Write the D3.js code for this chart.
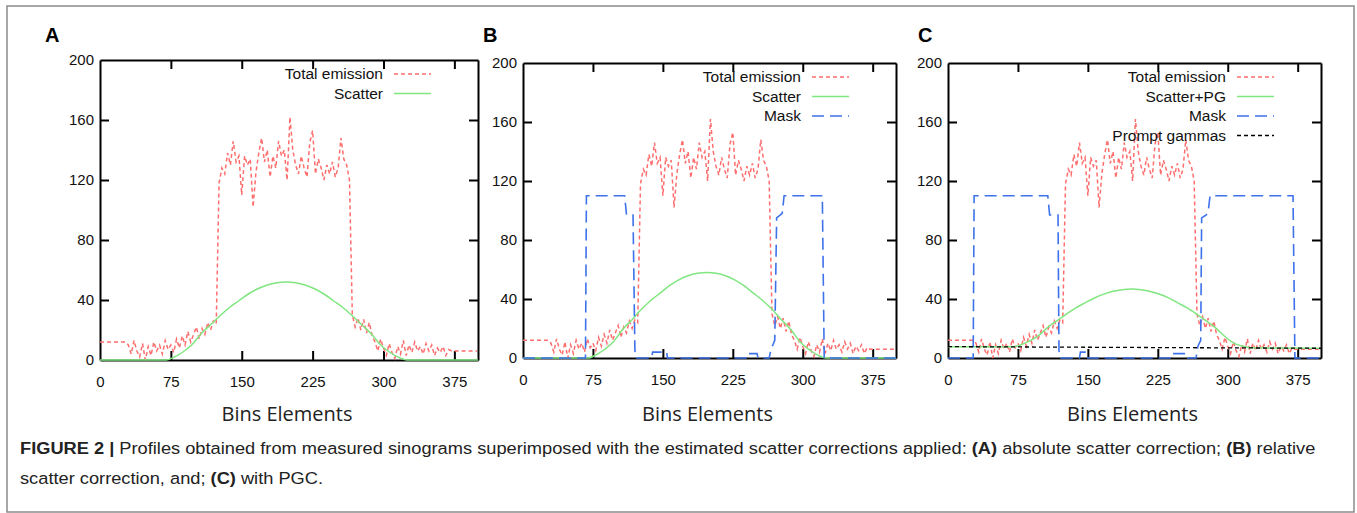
<!DOCTYPE html>
<html>
<head>
  <meta charset="utf-8">
  <title>Figure 2 - scatter profiles</title>
  <script src="https://d3js.org/d3.v7.min.js"></script>
  <style>
    body { margin: 0; background: #fff; }
    .axis path, .axis line { stroke: #000; stroke-width: 2; }
    .axis text { font-family: "Liberation Sans", Arial, sans-serif; font-size: 15px; fill: #111; }
    .legend text { font-family: "Liberation Sans", Arial, sans-serif; font-size: 15.5px; fill: #111; }
    .xtitle { font-family: "Open Sans", sans-serif; font-size: 20px; fill: #222; }
    .letter { font-family: "Liberation Sans", Arial, sans-serif; font-size: 20px; font-weight: bold; }
    .caption { font-family: "Liberation Sans Narrow", "Liberation Sans", sans-serif; font-size: 17px; fill: #222; }
  </style>
</head>
<body>
  <svg width="1357" height="513"></svg>
  <script>
    const xTicks = [0, 75, 150, 225, 300, 375];
    const yTicks = [0, 40, 80, 120, 160, 200];

    // total emission, one value every 3 bins (0..399)
    const emissionBins = d3.range(0, 400, 3);
    const emission = [
      12, 12, 12, 12, 12, 12, 12, 12, 12, 12,
      10, 4, 13, 6, 2, 11, 0, 9, 3, 12, 6, 10, 4, 13, 7, 10,
      5, 14, 8, 16, 10, 19, 12, 17, 22, 14, 21, 17, 25, 20, 26, 24,
      118, 128, 124, 138, 130, 146, 132, 136, 110, 136,
      130, 134, 102, 125, 138, 148, 132, 140, 122, 136,
      128, 146, 136, 140, 120, 162, 140, 130, 124, 136,
      128, 122, 145, 153, 124, 134, 128, 120, 130, 124,
      132, 122, 128, 148, 134, 130, 120,
      30, 22, 28, 20, 27, 18, 25, 16, 12, 6,
      14, 8, 3, 11, 5, 1, 9, 4, 13, 3,
      10, 5, 12, 6, 9, 4, 11, 6, 10, 3,
      8, 5, 9, 3, 7, 6, 6, 6, 6, 6, 6, 6, 6, 6, 6
    ];

    const scatterBins = [0, 60, 70, 77, 87, 97, 107, 117, 127, 137, 147, 157, 167, 177, 187, 197,
      207, 217, 227, 237, 247, 257, 267, 277, 287, 297, 307, 317, 325, 400];
    const scatterA = [0, 0, 0, 1.5, 5, 10, 17.5, 23.5, 29.5, 35, 39.5, 44, 47.5, 50, 51.5, 52,
      51.5, 50, 47.5, 44, 39.5, 35, 29.5, 23.5, 17.5, 10, 5, 1.5, 0, 0];
    const scatterB = [0, 0, 0, 1.7, 5.6, 11, 19.5, 26, 33, 39, 44, 49, 53, 55.8, 57.4, 58,
      57.4, 55.8, 53, 49, 44, 39, 33, 26, 19.5, 11, 5.6, 1.7, 0, 0];
    const scatterPgC = [7.7, 7.6, 7.6, 8.7, 11.4, 15.2, 20.8, 25.4, 29.8, 34, 37.4, 40.7, 43.3, 45.2, 46.3, 46.7,
      46.2, 45.1, 43.2, 40.6, 37.2, 33.8, 29.6, 25.1, 20.4, 14.6, 9.9, 7.9, 6.9, 6.6];

    const maskBBins = [0, 67, 68, 109, 111, 118, 120, 122, 138, 139, 154, 155, 240, 241, 251, 252,
      264, 266, 270, 272, 276, 278, 280, 321, 323, 400];
    const maskB = [0, 0, 110, 110, 97, 97, 5, 0, 0, 4, 4, 0, 0, 3, 3, 0,
      0, 6, 12, 95, 97, 98, 110, 110, 0, 0];
    const maskCBins = [0, 27, 28, 107, 109, 118, 119, 121, 141, 142, 149, 150, 238, 239, 256, 257,
      266, 268, 271, 272, 277, 279, 281, 370, 372, 400];
    const maskC = [0, 0, 110, 110, 97, 97, 5, 0, 0, 4, 4, 0, 0, 3, 3, 0,
      0, 8, 12, 95, 97, 99, 110, 110, 0, 0];

    const promptBins = [0, 400];
    const prompt = [7.7, 6.6];

    const styles = {
      emission: { label: "Total emission", color: "#ff6e6e", dash: "4,3", width: 1.5 },
      scatter: { label: "Scatter", color: "#80e680", dash: null, width: 1.5 },
      scatterPg: { label: "Scatter+PG", color: "#80e680", dash: null, width: 1.5 },
      mask: { label: "Mask", color: "#3d72ea", dash: "12,6", width: 1.6 },
      prompt: { label: "Prompt gammas", color: "#000", dash: "4,3", width: 1.3 }
    };

    const panels = [
      { letter: "A", lx: 45, left: 100, right: 478, top: 60, bottom: 360,
        series: [
          { s: styles.emission, bins: emissionBins, vals: emission },
          { s: styles.scatter, bins: scatterBins, vals: scatterA, smooth: true }
        ] },
      { letter: "B", lx: 483, left: 523, right: 896, top: 63, bottom: 358,
        series: [
          { s: styles.emission, bins: emissionBins, vals: emission },
          { s: styles.scatter, bins: scatterBins, vals: scatterB, smooth: true },
          { s: styles.mask, bins: maskBBins, vals: maskB }
        ] },
      { letter: "C", lx: 918, left: 948, right: 1321, top: 63, bottom: 358,
        series: [
          { s: styles.emission, bins: emissionBins, vals: emission },
          { s: styles.scatterPg, bins: scatterBins, vals: scatterPgC, smooth: true },
          { s: styles.mask, bins: maskCBins, vals: maskC },
          { s: styles.prompt, bins: promptBins, vals: prompt }
        ] }
    ];

    const svg = d3.select("svg");

    svg.append("rect")
      .attr("x", 7).attr("y", 6).attr("width", 1347).attr("height", 506)
      .attr("fill", "none").attr("stroke", "#8a8a8a").attr("stroke-width", 1.5);

    panels.forEach(p => {
      const x = d3.scaleLinear().domain([0, 400]).range([p.left, p.right]);
      const y = d3.scaleLinear().domain([0, 200]).range([p.bottom, p.top]);

      svg.append("g").attr("class", "axis")
        .attr("transform", `translate(0,${p.bottom})`)
        .call(d3.axisBottom(x).tickValues(xTicks).tickSizeInner(-9).tickSizeOuter(0).tickPadding(16));
      svg.append("g").attr("class", "axis")
        .attr("transform", `translate(0,${p.top})`)
        .call(d3.axisTop(x).tickValues(xTicks).tickSizeInner(-9).tickSizeOuter(0).tickFormat(""));
      svg.append("g").attr("class", "axis")
        .attr("transform", `translate(${p.left},0)`)
        .call(d3.axisLeft(y).tickValues(yTicks).tickSizeInner(-9).tickSizeOuter(0).tickPadding(6));
      svg.append("g").attr("class", "axis")
        .attr("transform", `translate(${p.right},0)`)
        .call(d3.axisRight(y).tickValues(yTicks).tickSizeInner(-9).tickSizeOuter(0).tickFormat(""));
      // edge ticks sit on the frame, drop them
      svg.selectAll(".axis .tick line").filter(d => d === 0 || d === 200).remove();

      svg.append("text").attr("class", "letter")
        .attr("x", p.lx).attr("y", 42).text(p.letter);

      svg.append("text").attr("class", "xtitle")
        .attr("x", (p.left + p.right) / 2 - 2).attr("y", 421)
        .attr("text-anchor", "middle").text("Bins Elements");

      p.series.forEach(sr => {
        const line = d3.line()
          .x(d => x(d[0])).y(d => y(d[1]))
          .curve(sr.smooth ? d3.curveMonotoneX : d3.curveLinear);
        svg.append("path")
          .datum(d3.zip(sr.bins, sr.vals))
          .attr("d", line)
          .attr("fill", "none")
          .attr("stroke", sr.s.color)
          .attr("stroke-width", sr.s.width)
          .attr("stroke-dasharray", sr.s.dash);
      });

      const lg = svg.append("g").attr("class", "legend");
      p.series.forEach((sr, i) => {
        const ry = p.top + 14 + i * 19.5;
        lg.append("text")
          .attr("x", p.right - 95).attr("y", ry).attr("dy", "0.35em")
          .attr("text-anchor", "end").text(sr.s.label);
        lg.append("line")
          .attr("x1", p.right - 84).attr("x2", p.right - 47)
          .attr("y1", ry).attr("y2", ry)
          .attr("stroke", sr.s.color)
          .attr("stroke-width", sr.s.width)
          .attr("stroke-dasharray", sr.s.dash);
      });
    });

    // caption
    const cap1 = svg.append("text").attr("class", "caption");
    cap1.append("tspan").attr("font-weight", "bold").text("FIGURE 2 | ");
    cap1.append("tspan").text("Profiles obtained from measured sinograms superimposed with the estimated scatter corrections applied: ");
    cap1.append("tspan").attr("font-weight", "bold").text("(A)");
    cap1.append("tspan").text(" absolute scatter correction; ");
    cap1.append("tspan").attr("font-weight", "bold").text("(B)");
    cap1.append("tspan").text(" relative");

    const cap2 = svg.append("text").attr("class", "caption");
    cap2.append("tspan").text("scatter correction, and; ");
    cap2.append("tspan").attr("font-weight", "bold").text("(C)");
    cap2.append("tspan").text(" with PGC.");

    const w1 = cap1.node().getComputedTextLength();
    const k = 1296 / w1;
    cap1.attr("transform", `translate(20,454) scale(${k},1)`);
    cap2.attr("transform", `translate(20,484) scale(${k},1)`);
  </script>
</body>
</html>
